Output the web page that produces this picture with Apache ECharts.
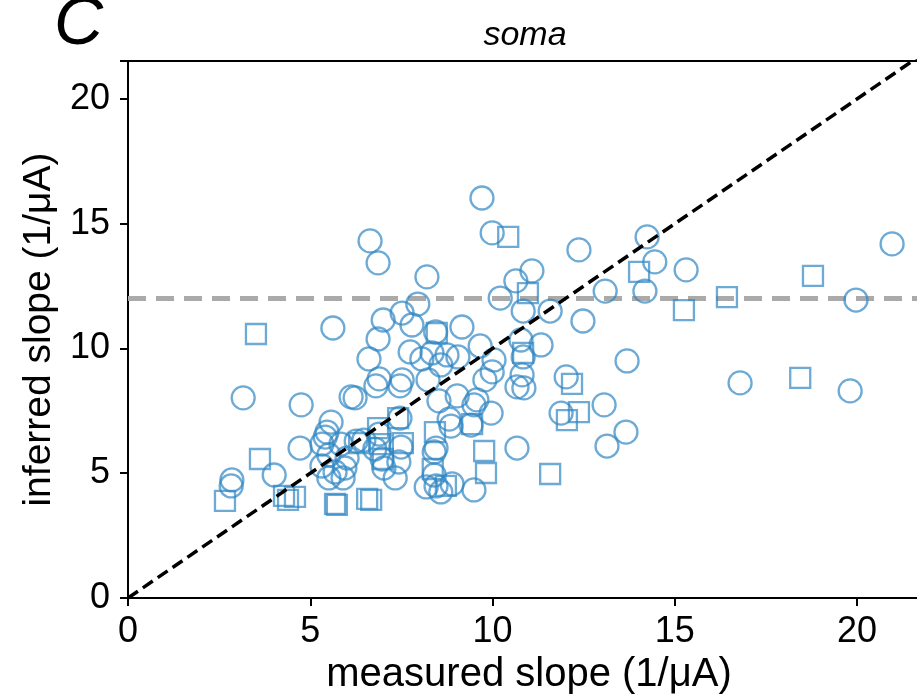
<!DOCTYPE html>
<html>
<head>
<meta charset="utf-8">
<script src="https://cdn.jsdelivr.net/npm/echarts@6/dist/echarts.min.js"></script>
<style>
  html, body { margin: 0; padding: 0; background: #fff; overflow: hidden; }
  #chart { width: 940px; height: 700px; }
</style>
</head>
<body>
<div id="chart"></div>
<script>
// circles: [measured, inferred]
var circlePts = [
  [9.71,16.03],[6.64,14.31],[9.99,14.63],[6.86,13.43],[12.37,13.95],[14.24,14.47],[20.96,14.19],
  [15.31,13.15],[14.45,13.47],[11.08,13.11],[10.64,12.71],[8.20,12.87],[10.21,12.02],[13.09,12.30],
  [14.18,12.30],[19.97,11.94],[7.95,11.78],[7.52,11.42],[7.00,11.14],[10.84,11.50],[11.58,11.50],
  [12.48,11.10],[5.62,10.82],[7.79,10.94],[9.16,10.86],[6.86,10.38],[8.44,10.66],[10.78,10.34],
  [11.33,10.14],[9.66,10.10],[7.74,9.86],[8.34,9.82],[8.75,9.74],[9.05,9.66],[6.61,9.58],
  [8.06,9.58],[10.04,9.54],[10.84,9.66],[8.58,9.34],[13.69,9.50],[9.99,9.06],[9.79,8.74],
  [10.81,8.94],[10.86,8.42],[10.67,8.46],[12.02,8.86],[6.89,8.78],[6.80,8.50],[7.52,8.74],
  [8.23,8.74],[7.46,8.50],[6.12,8.06],[6.23,8.02],[3.16,8.02],[16.79,8.62],[19.81,8.30],
  [9.03,8.10],[9.49,7.74],[4.75,7.74],[8.53,7.90],[9.57,7.94],[13.06,7.74],[11.88,7.41],
  [9.96,7.41],[5.57,7.05],[7.46,7.21],[8.81,7.17],[8.86,6.89],[9.41,6.93],[5.46,6.65],
  [5.41,6.45],[6.89,6.57],[6.47,6.33],[6.26,6.29],[13.66,6.65],[5.32,6.17],[5.84,6.17],
  [4.72,6.01],[6.77,5.97],[7.49,6.05],[10.67,6.01],[13.14,6.09],[5.51,5.73],[6.01,5.61],
  [6.97,5.57],[7.43,5.45],[8.45,6.01],[8.40,5.85],[7.02,5.21],[5.32,5.29],[5.95,5.21],
  [4.01,4.93],[2.85,4.73],[2.83,4.49],[5.51,4.81],[5.90,4.81],[7.33,4.81],[8.40,4.93],
  [8.45,4.49],[8.18,4.45],[8.58,4.25],[8.89,4.57],[9.49,4.33],[5.68,5.05]
];
// squares: [measured, inferred]
var squarePts = [
  [10.43,14.47],[10.97,12.22],[14.02,13.07],[18.79,12.91],[16.43,12.06],[15.25,11.54],[3.51,10.58],
  [8.47,10.62],[18.44,8.82],[12.18,8.58],[12.04,7.13],[12.37,7.45],[9.44,6.97],[6.86,6.81],
  [8.42,6.65],[7.54,6.21],[6.34,6.21],[6.91,6.17],[3.62,5.57],[9.77,5.89],[8.36,5.17],
  [9.82,5.01],[11.58,4.97],[6.99,5.57],[2.66,3.89],[4.28,4.09],[4.58,4.05],[5.68,3.77],
  [5.73,3.73],[6.56,3.97],[6.67,3.93],[4.39,3.93],[8.72,4.49],[10.84,9.82],[7.41,7.21]
];
var xTicks = [0, 5, 10, 15, 20];
var yTicks = [0, 5, 10, 15, 20];
var refLevel = 12;
var xMax = 22.0, yMax = 21.52;

var font = 'Liberation Sans, Arial, sans-serif';
var chart = echarts.init(document.getElementById('chart'));
var markStyle = { color: 'rgba(0,0,0,0)', borderColor: '#2f86c3', borderWidth: 2.3, opacity: 0.7 };

chart.setOption({
  animation: false,
  title: { text: 'soma', left: 520, top: 14, textAlign: 'center',
    textStyle: { fontFamily: font, fontSize: 34, fontStyle: 'italic', fontWeight: 'normal', color: '#000' } },
  graphic: [{ type: 'text', left: 54, top: -9,
    style: { text: 'C', fontFamily: font, fontSize: 68, fontStyle: 'italic', fill: '#000' } }],
  grid: { left: 128, top: 61, right: 10, bottom: 102, show: true, borderColor: '#000', borderWidth: 2 },
  xAxis: {
    type: 'value', min: 0, max: xMax, interval: 5,
    name: 'measured slope (1/μA)', nameLocation: 'middle', nameGap: 52,
    nameTextStyle: { fontFamily: font, fontSize: 40, color: '#000' },
    axisLine: { lineStyle: { color: '#000', width: 2 } },
    axisTick: { length: 8, lineStyle: { width: 2, color: '#000' } },
    axisLabel: { fontFamily: font, fontSize: 36, color: '#000', margin: 16,
      formatter: function (v) { return xTicks.indexOf(v) >= 0 ? String(v) : ''; } },
    splitLine: { show: false }
  },
  yAxis: {
    type: 'value', min: 0, max: yMax, interval: 5,
    name: 'inferred slope (1/μA)', nameLocation: 'middle', nameGap: 62,
    nameTextStyle: { fontFamily: font, fontSize: 39, color: '#000' },
    axisLine: { lineStyle: { color: '#000', width: 2 } },
    axisTick: { length: 8, lineStyle: { width: 2, color: '#000' } },
    axisLabel: { fontFamily: font, fontSize: 36, color: '#000', margin: 18,
      formatter: function (v) { return yTicks.indexOf(v) >= 0 ? String(v) : ''; } },
    splitLine: { show: false }
  },
  series: [
    { type: 'line', data: [[0, refLevel], [xMax, refLevel]], symbol: 'none', silent: true, z: 1,
      lineStyle: { color: '#aaaaaa', width: 5, type: [18, 10] } },
    { type: 'scatter', data: circlePts, symbol: 'circle', symbolSize: 23, itemStyle: markStyle, z: 2 },
    { type: 'scatter', data: squarePts, symbol: 'rect', symbolSize: 20, itemStyle: markStyle, z: 2 },
    { type: 'line', data: [[0, 0], [xMax, xMax]], symbol: 'none', silent: true, z: 3, clip: true,
      lineStyle: { color: '#000', width: 3.5, type: [12, 6] } }
  ]
});
</script>
</body>
</html>
